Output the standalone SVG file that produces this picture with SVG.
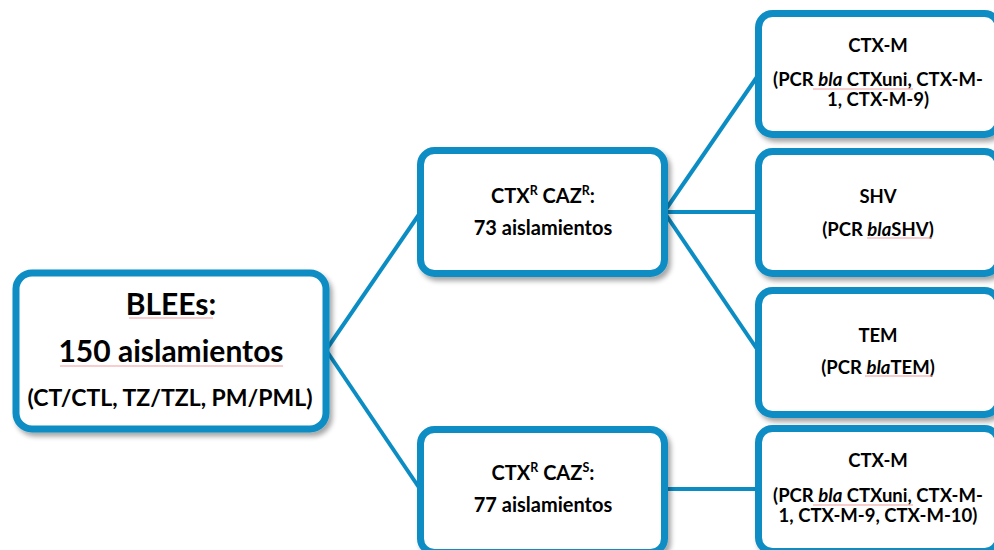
<svg xmlns="http://www.w3.org/2000/svg" width="994" height="550" viewBox="0 0 994 550">
  <defs>
    <filter id="shadow" x="-10%" y="-10%" width="130%" height="130%">
      <feDropShadow dx="3" dy="4" stdDeviation="2.5" flood-color="#000" flood-opacity="0.35"/>
    </filter>
  </defs>
  <style>
    .box { fill: #ffffff; stroke: #0B8DC4; stroke-width: 7; filter: url(#shadow); }
    .link { fill: none; stroke: #0B8DC4; stroke-width: 4; }
    text { font-family: Lato, "Open Sans", "Liberation Sans", sans-serif; font-weight: 700; fill: #000; text-anchor: middle; }
    .big { font-size: 30px; }
    .mid { font-size: 23px; }
    .md2 { font-size: 20px; }
    .sm { font-size: 18.5px; }
    .sup { font-size: 12.5px; }
    .squig { fill: none; stroke: #F29B9B; stroke-width: 1.2; }
  </style>
  <rect width="994" height="550" fill="#ffffff"/>

  <!-- connectors -->
  <g id="connectors">
    <path class="link" d="M326,350 L420,213"/>
    <path class="link" d="M326,350 L420,489"/>
    <path class="link" d="M664,212 L759,74"/>
    <path class="link" d="M664,212 L759,212"/>
    <path class="link" d="M664,212 L759,352"/>
    <path class="link" d="M664,489 L759,489"/>
  </g>

  <!-- root node -->
  <g id="blees">
    <rect class="box" x="16" y="273" width="310" height="156" rx="16"/>
    <text class="big" x="171" y="315">BLEEs:</text>
    <text class="big" x="171" y="362">150 aislamientos</text>
    <text class="mid" x="170" y="406">(CT/CTL, TZ/TZL, PM/PML)</text>
    <path class="squig" d="M129,318 H213 M60,366 H283"/>
  </g>

  <!-- second level -->
  <g id="ctxr-cazr">
    <rect class="box" x="420.5" y="150.5" width="244" height="123" rx="14"/>
    <text class="md2" x="543" y="203">CTX<tspan class="sup" dy="-8">R</tspan><tspan dy="8"> CAZ</tspan><tspan class="sup" dy="-8">R</tspan><tspan dy="8">:</tspan></text>
    <text class="md2" x="543" y="235">73 aislamientos</text>
  </g>
  <g id="ctxr-cazs">
    <rect class="box" x="420.5" y="429.5" width="244" height="123" rx="14"/>
    <text class="md2" x="543" y="480">CTX<tspan class="sup" dy="-8">R</tspan><tspan dy="8"> CAZ</tspan><tspan class="sup" dy="-8">S</tspan><tspan dy="8">:</tspan></text>
    <text class="md2" x="543" y="512">77 aislamientos</text>
  </g>

  <!-- third level -->
  <g id="ctxm-1">
    <rect class="box" x="758.5" y="13.5" width="240" height="121" rx="14"/>
    <text class="sm" x="878" y="52">CTX-M</text>
    <text class="sm" x="878" y="86">(PCR <tspan font-style="italic">bla</tspan> CTXuni, CTX-M-</text>
    <text class="sm" x="878" y="106">1, CTX-M-9)</text>
    <path class="squig" d="M813,89 H913"/>
  </g>
  <g id="shv">
    <rect class="box" x="758.5" y="151.5" width="240" height="122" rx="14"/>
    <text class="sm" x="878" y="203">SHV</text>
    <text class="sm" x="878" y="236">(PCR <tspan font-style="italic">bla</tspan>SHV)</text>
    <path class="squig" d="M867,238 H932"/>
  </g>
  <g id="tem">
    <rect class="box" x="758.5" y="290.5" width="240" height="124" rx="14"/>
    <text class="sm" x="878" y="342">TEM</text>
    <text class="sm" x="878" y="374">(PCR <tspan font-style="italic">bla</tspan>TEM)</text>
    <path class="squig" d="M865,376 H933"/>
  </g>
  <g id="ctxm-2">
    <rect class="box" x="758.5" y="428.5" width="240" height="123" rx="14"/>
    <text class="sm" x="878" y="467">CTX-M</text>
    <text class="sm" x="878" y="502">(PCR <tspan font-style="italic">bla</tspan> CTXuni, CTX-M-</text>
    <text class="sm" x="878" y="522">1, CTX-M-9, CTX-M-10)</text>
    <path class="squig" d="M813,505 H913"/>
  </g>
</svg>
